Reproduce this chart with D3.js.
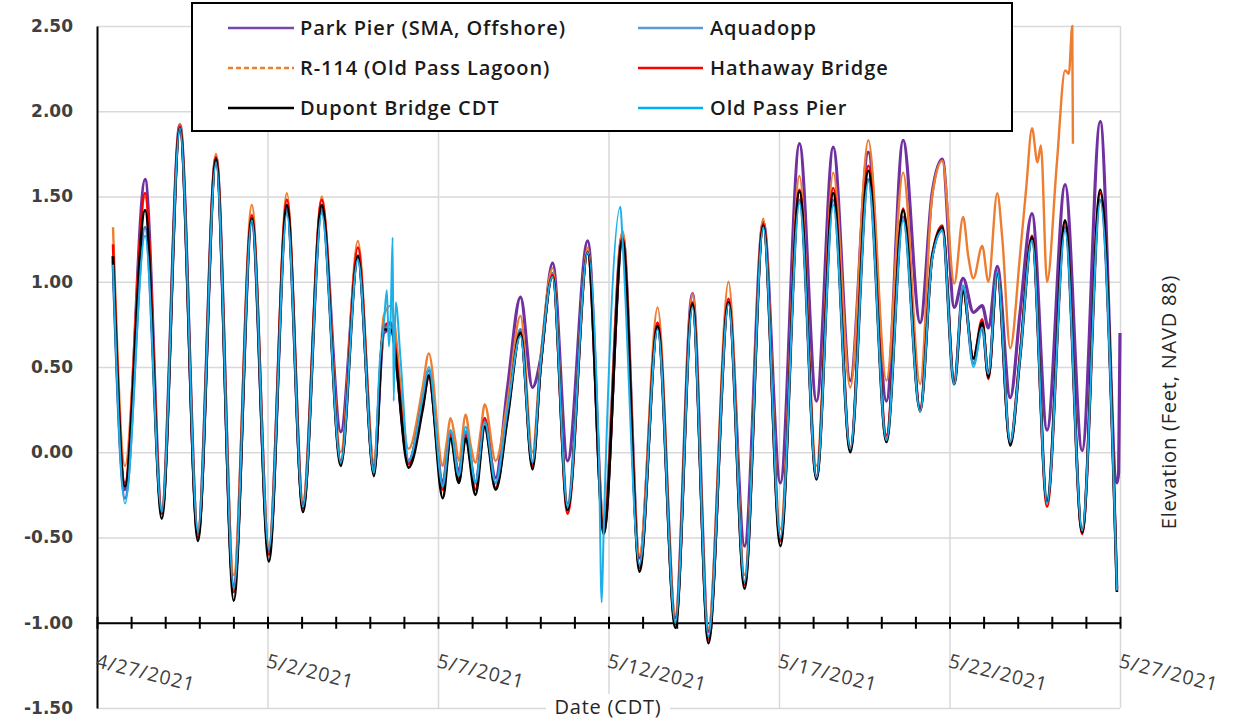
<!DOCTYPE html>
<html>
<head>
<meta charset="utf-8">
<script src="https://cdn.jsdelivr.net/npm/d3@7"></script>
<style>
  html, body { margin: 0; padding: 0; background: #fff; }
  svg { display: block; font-family: "Open Sans", sans-serif; }
</style>
</head>
<body>
<div id="chart"></div>
<script>
// Water level turning points.
// tideDays = days after 4/27/2021 00:00; values in feet NAVD 88.
const tideDays = [
  0.47, 0.82, 1.41, 1.90, 2.43, 2.96, 3.49, 4.01, 4.54, 5.04,
  5.57, 6.04, 6.59, 7.15, 7.65, 8.12, 8.41, 8.61, 9.14, 9.55,
  9.73, 10.14, 10.37, 10.61, 10.81, 11.10, 11.37, 11.69, 12.04, 12.42,
  12.77, 13.01, 13.36, 13.80, 14.39, 14.86, 15.41, 15.91, 16.44, 16.96,
  17.46, 17.93, 18.52, 18.99, 19.54, 20.04, 20.60, 21.10, 21.59, 22.09,
  22.62, 23.15, 23.64, 24.14, 24.49, 24.79, 25.14, 25.40, 25.70, 25.96,
  26.14, 26.40, 26.78, 27.07, 27.42, 27.86, 28.39, 28.89, 29.42, 29.91
];

const parkPier = [
  1.15, -0.22, 1.60, -0.34, 1.92, -0.47, 1.73, -0.78, 1.36, -0.58,
  1.44, -0.30, 1.44, 0.12, 1.15, -0.08, 0.70, 0.72, -0.05, 0.28,
  0.45, -0.18, 0.10, -0.12, 0.10, -0.18, 0.15, -0.15, 0.38, 0.91,
  0.38, 0.55, 1.11, -0.05, 1.24, -0.42, 1.28, -0.62, 0.75, -0.97,
  0.93, -1.05, 0.88, -0.55, 1.35, -0.18, 1.81, 0.30, 1.79, 0.42,
  1.76, 0.30, 1.83, 0.76, 1.52, 1.72, 0.85, 1.02, 0.82, 0.86,
  0.73, 1.09, 0.32, 0.82, 1.40, 0.13, 1.57, 0.01, 1.94, -0.18
];
const aquadopp = [
  1.12, -0.27, 1.32, -0.35, 1.90, -0.47, 1.72, -0.80, 1.36, -0.58,
  1.43, -0.32, 1.42, -0.05, 1.14, -0.10, 0.72, 0.75, -0.06, 0.30,
  0.48, -0.20, 0.12, -0.14, 0.12, -0.18, 0.18, -0.18, 0.25, 0.72,
  -0.06, 0.52, 1.05, -0.30, 1.18, -0.45, 1.25, -0.66, 0.73, -1.00,
  0.87, -1.08, 0.88, -0.76, 1.33, -0.50, 1.48, -0.14, 1.48, 0.02,
  1.60, 0.08, 1.38, 0.25, 1.15, 1.30, 0.40, 0.97, 0.52, 0.74,
  0.45, 1.05, 0.06, 0.56, 1.25, -0.28, 1.32, -0.46, 1.48, -0.80
];
const r114 = [
  1.32, -0.08, 1.50, -0.33, 1.92, -0.45, 1.75, -0.72, 1.45, -0.55,
  1.52, -0.28, 1.50, 0.00, 1.24, -0.05, 0.80, 0.86, 0.02, 0.38,
  0.58, -0.08, 0.20, -0.05, 0.22, -0.06, 0.28, -0.05, 0.30, 0.80,
  0.00, 0.55, 1.08, -0.32, 1.20, -0.40, 1.30, -0.60, 0.85, -0.95,
  0.93, -1.03, 1.00, -0.72, 1.37, -0.45, 1.62, -0.08, 1.64, 0.38,
  1.83, 0.42, 1.64, 0.40, 1.50, 1.71, 0.99, 1.38, 1.02, 1.21,
  1.00, 1.52, 0.61, 1.16, 1.90, 1.00, 2.24, null, null, null
];
const hathaway = [
  1.22, -0.18, 1.52, -0.36, 1.91, -0.50, 1.73, -0.82, 1.39, -0.60,
  1.48, -0.33, 1.48, -0.06, 1.20, -0.12, 0.74, 0.76, -0.07, 0.30,
  0.44, -0.22, 0.10, -0.17, 0.10, -0.22, 0.20, -0.21, 0.22, 0.70,
  -0.08, 0.50, 1.04, -0.36, 1.17, -0.47, 1.26, -0.68, 0.76, -1.01,
  0.88, -1.10, 0.90, -0.78, 1.34, -0.52, 1.54, -0.15, 1.55, 0.02,
  1.68, 0.10, 1.43, 0.26, 1.15, 1.33, 0.42, 0.95, 0.55, 0.78,
  0.43, 1.06, 0.05, 0.58, 1.27, -0.32, 1.35, -0.48, 1.52, -0.81
];
const dupont = [
  1.15, -0.20, 1.42, -0.39, 1.90, -0.52, 1.72, -0.87, 1.37, -0.64,
  1.45, -0.35, 1.45, -0.08, 1.15, -0.14, 0.72, 0.72, -0.09, 0.25,
  0.45, -0.27, 0.08, -0.18, 0.08, -0.25, 0.15, -0.22, 0.20, 0.70,
  -0.10, 0.50, 1.03, -0.34, 1.17, -0.48, 1.25, -0.70, 0.74, -1.03,
  0.87, -1.12, 0.88, -0.80, 1.33, -0.55, 1.53, -0.16, 1.52, 0.00,
  1.65, 0.06, 1.42, 0.24, 1.14, 1.32, 0.40, 0.94, 0.55, 0.76,
  0.44, 1.05, 0.04, 0.56, 1.26, -0.29, 1.36, -0.47, 1.54, -0.82
];
const oldPassPier = [
  1.10, -0.30, 1.27, -0.35, 1.90, -0.47, 1.70, -0.80, 1.36, -0.57,
  1.40, -0.32, 1.40, -0.06, 1.13, -0.12, 0.75, 0.78, -0.05, 0.32,
  0.50, -0.20, 0.13, -0.14, 0.15, -0.18, 0.18, -0.18, 0.25, 0.68,
  -0.06, 0.52, 1.03, -0.32, 1.17, -0.45, 1.25, -0.66, 0.72, -1.00,
  0.85, -1.08, 0.87, -0.76, 1.32, -0.50, 1.46, -0.15, 1.45, 0.02,
  1.59, 0.07, 1.36, 0.24, 1.13, 1.30, 0.40, 0.98, 0.50, 0.73,
  0.46, 1.06, 0.06, 0.56, 1.24, -0.30, 1.30, -0.46, 1.47, -0.81
];

// extra readings between turning points (spikes, choppy water) as [day, ft]
const oldPassSpikes = [
  [8.30, 0.55], [8.50, 0.95], [8.56, 0.62], [8.67, 1.26], [8.70, 0.30],
  [8.76, 0.88], [8.90, 0.55], [14.72, -0.05], [14.80, -0.88], [15.35, 1.44]
];
const r114Extra = [
  [10.25, 0.05], [10.50, 0.08], [10.95, 0.05], [11.25, 0.12],
  [25.55, 1.15], [26.55, 1.25], [27.25, 1.55], [27.58, 1.70], [27.68, 1.80],
  [28.15, 1.70], [28.50, 2.22], [28.60, 2.50], [28.62, 1.81]
];
const parkPierExtra = [[29.96, -0.12], [30.0, 0.70]];

const yTicks = [-1.5, -1.0, -0.5, 0, 0.5, 1.0, 1.5, 2.0, 2.5];

const series = [
  { name: 'Park Pier (SMA, Offshore)', color: '#7030a0', values: parkPier, extra: parkPierExtra, width: 3.2 },
  { name: 'Aquadopp', color: '#4f7fc4', values: aquadopp, extra: [], width: 3.0 },
  { name: 'R-114 (Old Pass Lagoon)', color: '#ed7d31', values: r114, extra: r114Extra, width: 2.4, dash: '5,3' },
  { name: 'Hathaway Bridge', color: '#ff0000', values: hathaway, extra: [], width: 2.6 },
  { name: 'Dupont Bridge CDT', color: '#000000', values: dupont, extra: [], width: 2.6 },
  { name: 'Old Pass Pier', color: '#1cb0ea', values: oldPassPier, extra: oldPassSpikes, width: 2.0 }
];
const legendColors = ['#7a45b0', '#5b9bd5', '#ed7d31', '#ff0000', '#000000', '#00b0f0'];

const width = 1234;
const height = 721;
const start = Date.UTC(2021, 3, 27);
const DAY = 86400000;
const toDate = d => new Date(start + d * DAY);

const x = d3.scaleUtc()
  .domain([toDate(0), toDate(30)])
  .range([97, 1120]);
const y = d3.scaleLinear().domain([-1.5, 2.5]).range([708, 26]);

const svg = d3.select('#chart')
  .append('svg')
  .attr('width', width)
  .attr('height', height);

// horizontal gridlines
svg.append('g')
  .attr('transform', 'translate(97,0)')
  .call(d3.axisLeft(y).tickValues(yTicks).tickSize(-1023).tickFormat(''))
  .call(g => g.select('.domain').remove())
  .call(g => g.selectAll('line').attr('stroke', '#d9d9d9').attr('stroke-width', 1.5));

const labelDates = d3.utcDay.range(toDate(0), toDate(30.5), 5);

// vertical gridlines every 5 days
svg.append('g')
  .attr('transform', 'translate(0,708)')
  .call(d3.axisBottom(x).tickValues(labelDates.slice(1)).tickSize(-682).tickFormat(''))
  .call(g => g.select('.domain').remove())
  .call(g => g.selectAll('line').attr('stroke', '#d9d9d9').attr('stroke-width', 1.5));

// axis titles
const dateTitle = svg.append('g');
dateTitle.append('rect')
  .attr('x', 546).attr('y', 694).attr('width', 124).attr('height', 27)
  .attr('fill', '#fff');
dateTitle.append('text')
  .attr('x', 608).attr('y', 714)
  .attr('text-anchor', 'middle')
  .attr('font-size', 20)
  .attr('letter-spacing', 0.8)
  .attr('fill', '#262626')
  .text('Date (CDT)');

svg.append('text')
  .attr('transform', 'translate(1176,402) rotate(-90)')
  .attr('text-anchor', 'middle')
  .attr('font-size', 20)
  .attr('letter-spacing', 0.8)
  .attr('fill', '#262626')
  .text('Elevation (Feet, NAVD 88)');

// y axis
svg.append('g')
  .attr('transform', 'translate(97,0)')
  .call(d3.axisLeft(y).tickValues(yTicks).tickSize(0).tickPadding(24).tickFormat(v => v.toFixed(2)))
  .call(g => g.select('.domain').attr('stroke', '#000').attr('stroke-width', 2))
  .call(g => g.selectAll('text')
    .attr('font-family', '"DejaVu Sans", sans-serif')
    .attr('font-weight', 'bold')
    .attr('font-size', 17)
    .attr('fill', '#404040'));

// x axis sits at -1.00 with a tick every day
svg.append('g')
  .attr('transform', `translate(0,${y(-1)})`)
  .call(d3.axisBottom(x).ticks(d3.utcDay.every(1)).tickSizeInner(12).tickSizeOuter(0).tickFormat(''))
  .call(g => g.select('.domain').attr('stroke', '#000').attr('stroke-width', 2.2))
  .call(g => g.selectAll('.tick line').attr('y1', -6).attr('y2', 6).attr('stroke', '#000').attr('stroke-width', 2));

const fmt = d3.utcFormat('%-m/%-d/%Y');
svg.append('g')
  .selectAll('text')
  .data(labelDates)
  .enter()
  .append('text')
  .attr('transform', d => `translate(${x(d) - 2},667) rotate(14)`)
  .attr('font-size', 19.5)
  .attr('letter-spacing', 1)
  .attr('fill', '#404040')
  .text(d => fmt(d));

// series
const line = d3.line()
  .x(d => x(toDate(d[0])))
  .y(d => y(d[1]))
  .curve(d3.curveMonotoneX);

series.forEach(s => {
  const pts = tideDays
    .map((d, i) => [d, s.values[i]])
    .filter(p => p[1] !== null)
    .concat(s.extra)
    .sort((a, b) => a[0] - b[0]);
  svg.append('path')
    .datum(pts)
    .attr('fill', 'none')
    .attr('stroke', s.color)
    .attr('stroke-width', s.width)
    .attr('stroke-linejoin', 'round')
    .attr('d', line);
});

// legend
const legend = svg.append('g');
legend.append('rect')
  .attr('x', 192).attr('y', 3).attr('width', 820).attr('height', 128)
  .attr('fill', '#fff')
  .attr('stroke', '#000')
  .attr('stroke-width', 2);

const legendCols = [[228, 294, 300], [638, 703, 710]];
const legendRows = [28, 68, 108];
series.forEach((s, i) => {
  const col = legendCols[i % 2];
  const row = legendRows[Math.floor(i / 2)];
  legend.append('line')
    .attr('x1', col[0]).attr('x2', col[1])
    .attr('y1', row).attr('y2', row)
    .attr('stroke', legendColors[i])
    .attr('stroke-width', 2.5)
    .attr('stroke-dasharray', s.dash || null);
  legend.append('text')
    .attr('x', col[2]).attr('y', row)
    .attr('dy', '0.35em')
    .attr('font-size', 20)
    .attr('font-weight', 600)
    .attr('letter-spacing', 0.9)
    .attr('fill', '#1a1a1a')
    .text(s.name);
});
</script>
</body>
</html>
